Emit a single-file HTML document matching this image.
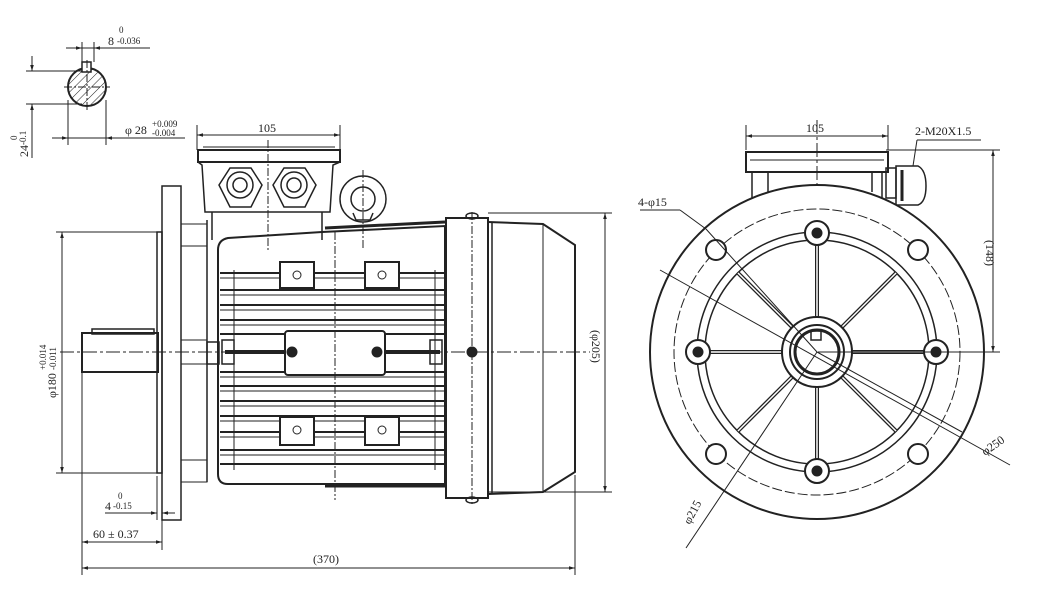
<!DOCTYPE html>
<html><head><meta charset="utf-8"><style>
html,body{margin:0;padding:0;background:#fff;}
svg{display:block;}
text{font-family:"Liberation Serif",serif;fill:#222;}
</style></head><body>
<svg width="1061" height="614" viewBox="0 0 1061 614" xmlns="http://www.w3.org/2000/svg">
<defs>
<marker id="a" viewBox="0 0 10 10" refX="10" refY="5" markerWidth="8" markerHeight="6" orient="auto-start-reverse"><path d="M0,2 L10,5 L0,8 z" fill="#222"/></marker>
<pattern id="h" width="6" height="6" patternUnits="userSpaceOnUse" patternTransform="rotate(45)"><line x1="0" y1="0" x2="0" y2="6" stroke="#222" stroke-width="1"/></pattern>
</defs>
<g fill="none" stroke="#222" stroke-width="1">
<!-- shaft section top-left -->
<circle cx="87" cy="87" r="19" fill="url(#h)" stroke-width="2"/>
<rect x="82" y="62" width="9" height="10" fill="#fff" stroke-width="1.5"/>
<line x1="64" y1="87" x2="110" y2="87" stroke-dasharray="8,2,2,2"/>
<line x1="87" y1="60" x2="87" y2="112" stroke-dasharray="8,2,2,2"/>
<line x1="66" y1="48" x2="150" y2="48"/>
<line x1="82" y1="42" x2="82" y2="62"/><line x1="94" y1="42" x2="94" y2="62"/>
<line x1="70" y1="48" x2="82" y2="48" marker-end="url(#a)"/><line x1="106" y1="48" x2="94" y2="48" marker-end="url(#a)"/>
<line x1="26" y1="71" x2="82" y2="71"/><line x1="26" y1="104" x2="82" y2="104"/>
<line x1="32" y1="56" x2="32" y2="71" marker-end="url(#a)"/><line x1="32" y1="158" x2="32" y2="104" marker-end="url(#a)"/>
<line x1="68" y1="100" x2="68" y2="145"/><line x1="106" y1="100" x2="106" y2="145"/>
<line x1="52" y1="138" x2="185" y2="138"/>
<line x1="56" y1="138" x2="68" y2="138" marker-end="url(#a)"/><line x1="118" y1="138" x2="106" y2="138" marker-end="url(#a)"/>

<!-- side view -->
<line x1="60" y1="352" x2="590" y2="352" stroke-dasharray="14,3,3,3"/>
<!-- shaft -->
<rect x="82" y="333" width="76" height="39" stroke-width="2"/>
<rect x="92" y="329" width="62" height="5" stroke-width="1.5"/>
<rect x="157" y="232" width="5" height="241" stroke-width="1.5"/>
<rect x="162" y="186" width="19" height="334" stroke-width="1.5"/>
<rect x="181" y="224" width="26" height="22"/><rect x="181" y="460" width="26" height="22"/>
<rect x="181" y="340" width="26" height="24"/>
<rect x="207" y="342" width="12" height="22" stroke-width="1.5"/>
<path d="M207,220 L207,482" stroke-width="1.5"/>
<!-- terminal box -->
<path d="M198,150 L340,150 L340,162 L198,162 Z" stroke-width="2"/>
<path d="M203,147 L335,147" />
<path d="M198,162 L202,165 L205,212 L330,212 L333,165 L340,162" stroke-width="1.5"/>
<path d="M212,212 L212,240 M322,212 L322,240" stroke-width="1.5"/>
<g stroke-width="1.5">
<polygon points="230,168 251,168 262,185 251,207 230,207 219,185"/>
<circle cx="240" cy="185" r="13"/><circle cx="240" cy="185" r="7"/>
<polygon points="284,168 305,168 316,185 305,207 284,207 273,185"/>
<circle cx="294" cy="185" r="13"/><circle cx="294" cy="185" r="7"/>
<circle cx="363" cy="199" r="23"/><circle cx="363" cy="199" r="12"/>
<path d="M353,213 L356,220 L370,220 L373,213"/>
</g>
<line x1="268" y1="140" x2="268" y2="250" stroke-dasharray="8,2,2,2"/>
<line x1="363" y1="170" x2="363" y2="250" stroke-dasharray="8,2,2,2"/>
<!-- frame -->
<path d="M218,250 Q218,240 228,238 L322,232 L445,226 L445,484 L228,484 Q218,484 218,474 Z" stroke-width="2"/>
<path d="M325,228 L445,222" stroke-width="3"/>
<path d="M325,486 L445,486" stroke-width="3"/>
<g stroke-width="2">
<line x1="220" y1="273" x2="445" y2="273"/><line x1="220" y1="290" x2="445" y2="290"/>
<line x1="220" y1="305" x2="445" y2="305"/><line x1="220" y1="320" x2="445" y2="320"/>
<line x1="220" y1="334" x2="445" y2="334"/><line x1="220" y1="372" x2="445" y2="372"/>
<line x1="220" y1="386" x2="445" y2="386"/><line x1="220" y1="401" x2="445" y2="401"/>
<line x1="220" y1="416" x2="445" y2="416"/><line x1="220" y1="432" x2="445" y2="432"/>
<line x1="220" y1="450" x2="445" y2="450"/><line x1="220" y1="464" x2="445" y2="464"/>
</g>
<g stroke-width="1">
<line x1="220" y1="278" x2="445" y2="278"/><line x1="220" y1="295" x2="445" y2="295"/>
<line x1="220" y1="310" x2="445" y2="310"/><line x1="220" y1="325" x2="445" y2="325"/>
<line x1="220" y1="377" x2="445" y2="377"/><line x1="220" y1="391" x2="445" y2="391"/>
<line x1="220" y1="406" x2="445" y2="406"/><line x1="220" y1="421" x2="445" y2="421"/>
<line x1="220" y1="437" x2="445" y2="437"/><line x1="220" y1="455" x2="445" y2="455"/>
<line x1="234" y1="270" x2="234" y2="470"/><line x1="435" y1="270" x2="435" y2="470"/>
</g>
<g fill="#fff" stroke-width="2">
<rect x="280" y="262" width="34" height="26"/><rect x="365" y="262" width="34" height="26"/>
<rect x="280" y="417" width="34" height="28"/><rect x="365" y="417" width="34" height="28"/>
<rect x="285" y="331" width="100" height="44" rx="3"/>
</g>
<circle cx="297" cy="275" r="4"/><circle cx="382" cy="275" r="4"/>
<circle cx="297" cy="430" r="4"/><circle cx="382" cy="430" r="4"/>
<line x1="225" y1="352" x2="285" y2="352" stroke-width="4"/><line x1="385" y1="352" x2="440" y2="352" stroke-width="4"/>
<circle cx="292" cy="352" r="5" fill="#222"/><circle cx="377" cy="352" r="5" fill="#222"/>
<rect x="222" y="340" width="12" height="24" stroke-width="1.5"/><rect x="430" y="340" width="12" height="24" stroke-width="1.5"/>
<line x1="335" y1="232" x2="335" y2="500" stroke-dasharray="8,2,2,2"/>
<!-- fan cover -->
<rect x="446" y="218" width="42" height="280" stroke-width="2"/>
<line x1="472" y1="212" x2="472" y2="505" stroke-dasharray="8,2,2,2"/>
<ellipse cx="472" cy="216" rx="6" ry="3" stroke-width="1.5"/><ellipse cx="472" cy="500" rx="6" ry="3" stroke-width="1.5"/>
<circle cx="472" cy="352" r="5" fill="#222"/>
<path d="M488,222 L543,224 L575,245 L575,472 L543,492 L488,494" stroke-width="2"/>
<line x1="492" y1="222" x2="492" y2="494" stroke-width="1.5"/>
<line x1="543" y1="224" x2="543" y2="492"/>
<!-- dims side view -->
<line x1="197" y1="150" x2="197" y2="125"/><line x1="340" y1="150" x2="340" y2="125"/>
<line x1="197" y1="135" x2="340" y2="135" marker-start="url(#a)" marker-end="url(#a)"/>
<line x1="488" y1="213" x2="612" y2="213"/><line x1="488" y1="492" x2="612" y2="492"/>
<line x1="605" y1="213" x2="605" y2="492" marker-start="url(#a)" marker-end="url(#a)"/>
<line x1="56" y1="232" x2="157" y2="232"/><line x1="56" y1="473" x2="157" y2="473"/>
<line x1="62" y1="232" x2="62" y2="473" marker-start="url(#a)" marker-end="url(#a)"/>
<line x1="82" y1="372" x2="82" y2="575"/><line x1="157" y1="476" x2="157" y2="520"/>
<line x1="162" y1="520" x2="162" y2="550"/><line x1="575" y1="475" x2="575" y2="575"/>
<line x1="105" y1="513" x2="157" y2="513"/>
<line x1="145" y1="513" x2="157" y2="513" marker-end="url(#a)"/><line x1="175" y1="513" x2="162" y2="513" marker-end="url(#a)"/>
<line x1="82" y1="542" x2="162" y2="542" marker-start="url(#a)" marker-end="url(#a)"/>
<line x1="82" y1="568" x2="575" y2="568" marker-start="url(#a)" marker-end="url(#a)"/>

<!-- right view -->
<line x1="655" y1="352" x2="1000" y2="352" stroke-dasharray="14,3,3,3"/>
<line x1="817" y1="120" x2="817" y2="500" stroke-dasharray="14,3,3,3"/>
<path d="M746,172 L746,152 L888,152 L888,172 Z" stroke-width="2"/>
<line x1="750" y1="160" x2="884" y2="160"/>
<path d="M752,172 L752,198 M768,172 L768,192 M872,172 L872,192 M882,172 L882,198" stroke-width="1.5"/>
<rect x="886" y="168" width="10" height="30" stroke-width="1.5"/>
<path d="M896,166 L918,166 Q926,170 926,186 Q926,202 918,205 L896,205 Z" stroke-width="1.5"/>
<line x1="902" y1="170" x2="902" y2="201" stroke-width="3"/>
<circle cx="817" cy="352" r="167" stroke-width="2" fill="#fff"/>
<circle cx="817" cy="352" r="143" stroke-dasharray="10,3"/>
<circle cx="817" cy="352" r="120" stroke-width="1.5"/>
<circle cx="817" cy="352" r="112" stroke-width="1.5"/>
<g stroke-width="4">
<line x1="817" y1="352" x2="817" y2="240"/><line x1="817" y1="352" x2="817" y2="464"/>
<line x1="817" y1="352" x2="705" y2="352"/><line x1="817" y1="352" x2="929" y2="352"/>
<line x1="817" y1="352" x2="738" y2="273"/><line x1="817" y1="352" x2="896" y2="273"/>
<line x1="817" y1="352" x2="738" y2="431"/><line x1="817" y1="352" x2="896" y2="431"/>
</g>
<g stroke-width="2" fill="#fff">
<line x1="817" y1="352" x2="817" y2="240" stroke="#fff" stroke-width="1.5"/>
<line x1="817" y1="352" x2="817" y2="464" stroke="#fff" stroke-width="1.5"/>
<line x1="817" y1="352" x2="705" y2="352" stroke="#fff" stroke-width="1.5"/>
<line x1="817" y1="352" x2="929" y2="352" stroke="#fff" stroke-width="1.5"/>
<line x1="817" y1="352" x2="738" y2="273" stroke="#fff" stroke-width="1.5"/>
<line x1="817" y1="352" x2="896" y2="273" stroke="#fff" stroke-width="1.5"/>
<line x1="817" y1="352" x2="738" y2="431" stroke="#fff" stroke-width="1.5"/>
<line x1="817" y1="352" x2="896" y2="431" stroke="#fff" stroke-width="1.5"/>
<circle cx="817" cy="352" r="35"/>
<circle cx="817" cy="352" r="27"/>
<circle cx="817" cy="352" r="22" stroke-width="3"/>
<circle cx="817" cy="233" r="12"/><circle cx="817" cy="471" r="12"/>
<circle cx="698" cy="352" r="12"/><circle cx="936" cy="352" r="12"/>
<circle cx="716" cy="250" r="10"/><circle cx="918" cy="250" r="10"/>
<circle cx="716" cy="454" r="10"/><circle cx="918" cy="454" r="10"/>
</g>
<rect x="811" y="331" width="10" height="9" stroke-width="1.5"/>
<circle cx="817" cy="233" r="5" fill="#222"/><circle cx="817" cy="471" r="5" fill="#222"/>
<circle cx="698" cy="352" r="5" fill="#222"/><circle cx="936" cy="352" r="5" fill="#222"/>
<line x1="817" y1="352" x2="962" y2="432"/>
<line x1="660" y1="270" x2="1010" y2="465"/>
<line x1="817" y1="352" x2="686" y2="548"/>
<line x1="706" y1="229" x2="817" y2="352"/>
<line x1="640" y1="210" x2="680" y2="210"/><line x1="680" y1="210" x2="706" y2="229"/>
<line x1="886" y1="150" x2="1000" y2="150"/><line x1="818" y1="352" x2="1000" y2="352"/>
<line x1="993" y1="150" x2="993" y2="352" marker-start="url(#a)" marker-end="url(#a)"/>
<line x1="746" y1="150" x2="746" y2="125"/><line x1="888" y1="150" x2="888" y2="125"/>
<line x1="746" y1="136" x2="888" y2="136" marker-start="url(#a)" marker-end="url(#a)"/>
<line x1="917" y1="140" x2="981" y2="140"/><line x1="917" y1="140" x2="913" y2="166"/>
</g>

<g font-size="12">
<text x="108" y="45">8</text><text x="117" y="44" font-size="9">-0.036</text><text x="119" y="33" font-size="9">0</text>
<text x="125" y="134">φ 28</text><text x="152" y="127" font-size="9">+0.009</text><text x="152" y="136" font-size="9">-0.004</text>
<text transform="translate(28,157) rotate(-90)">24</text><text transform="translate(26,145) rotate(-90)" font-size="9">-0.1</text><text transform="translate(17,140) rotate(-90)" font-size="9">0</text>
<text x="258" y="132">105</text>
<text x="806" y="132">105</text>
<text x="915" y="135">2-M20X1.5</text>
<text x="638" y="206">4-φ15</text>
<text transform="translate(986,240) rotate(90)">(148)</text>
<text transform="translate(592,330) rotate(90)">(φ205)</text>
<text transform="translate(985,456) rotate(-35)">φ250</text>
<text transform="translate(690,525) rotate(-62)">φ215</text>
<text transform="translate(56,398) rotate(-90)">φ180</text>
<text transform="translate(46,370) rotate(-90)" font-size="9">+0.014</text>
<text transform="translate(56,370) rotate(-90)" font-size="9">-0.011</text>
<text x="105" y="510">4</text><text x="113" y="509" font-size="9">-0.15</text><text x="118" y="499" font-size="9">0</text>
<text x="93" y="538">60 ± 0.37</text>
<text x="313" y="563">(370)</text>
</g>
</svg>
</body></html>
